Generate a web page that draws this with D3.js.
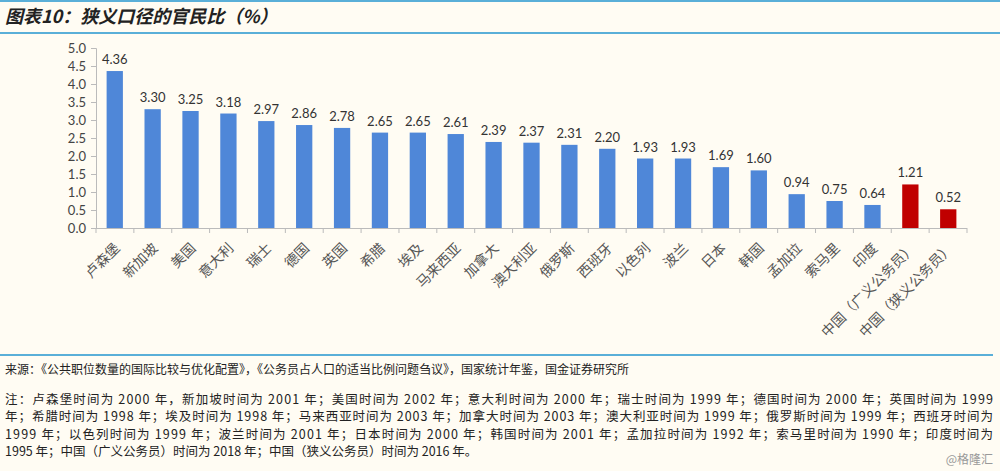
<!DOCTYPE html>
<html>
<head>
<meta charset="utf-8">
<script src="https://cdn.jsdelivr.net/npm/d3@7"></script>
<style>
  body { margin: 0; background: #fffcf3; }
  svg { display: block; }
</style>
</head>
<body>
<script>
const width = 1000;
const height = 471;

// Data.
const countries = ["卢森堡", "新加坡", "美国", "意大利", "瑞士", "德国", "英国", "希腊", "埃及", "马来西亚",
  "加拿大", "澳大利亚", "俄罗斯", "西班牙", "以色列", "波兰", "日本", "韩国", "孟加拉", "索马里", "印度",
  "中国（广义公务员）", "中国（狭义公务员）"];
const ratios = [4.36, 3.30, 3.25, 3.18, 2.97, 2.86, 2.78, 2.65, 2.65, 2.61, 2.39, 2.37, 2.31, 2.20, 1.93, 1.93,
  1.69, 1.60, 0.94, 0.75, 0.64, 1.21, 0.52];
const highlighted = ["中国（广义公务员）", "中国（狭义公务员）"];
const yTicks = [0, 0.5, 1, 1.5, 2, 2.5, 3, 3.5, 4, 4.5, 5];

const titleText = "图表10：狭义口径的官民比（%）";
const sourceText = "来源：《公共职位数量的国际比较与优化配置》，《公务员占人口的适当比例问题刍议》，国家统计年鉴，国金证券研究所";
const noteLines = [
  "注：卢森堡时间为 2000 年，新加坡时间为 2001 年；美国时间为 2002 年；意大利时间为 2000 年；瑞士时间为 1999 年；德国时间为 2000 年；英国时间为 1999",
  "年；希腊时间为 1998 年；埃及时间为 1998 年；马来西亚时间为 2003 年；加拿大时间为 2003 年；澳大利亚时间为 1999 年；俄罗斯时间为 1999 年；西班牙时间为",
  "1999 年；以色列时间为 1999 年；波兰时间为 2001 年；日本时间为 2000 年；韩国时间为 2001 年；孟加拉时间为 1992 年；索马里时间为 1990 年；印度时间为",
  "1995 年；中国（广义公务员）时间为 2018 年；中国（狭义公务员）时间为 2016 年。"
];

const data = countries.map((c, i) => ({ name: c, value: ratios[i] }));

const svg = d3.select("body").append("svg")
  .attr("width", width)
  .attr("height", height);

svg.append("rect").attr("width", width).attr("height", height).attr("fill", "#fffcf3");

// Header rules and title.
svg.append("line").attr("x1", 0).attr("x2", width).attr("y1", 1).attr("y2", 1)
  .attr("stroke", "#5aafd8").attr("stroke-width", 2);
svg.append("line").attr("x1", 0).attr("x2", width).attr("y1", 33).attr("y2", 33)
  .attr("stroke", "#5aafd8").attr("stroke-width", 2);
svg.append("text")
  .attr("x", 5).attr("y", 23)
  .attr("font-family", "Noto Sans CJK SC")
  .attr("font-size", 18)
  .attr("font-weight", "bold")
  .attr("font-style", "italic")
  .attr("fill", "#222")
  .text(titleText);

// Scales.
const x = d3.scaleBand()
  .domain(countries)
  .range([96, 967])
  .paddingInner(0.57)
  .paddingOuter(0.28);

const y = d3.scaleLinear()
  .domain([0, 5])
  .range([228, 48]);

// Y axis.
const yAxis = svg.append("g")
  .attr("transform", "translate(96,0)")
  .call(d3.axisLeft(y).tickValues(yTicks).tickFormat(d3.format(".1f")).tickSize(5).tickPadding(5));
yAxis.select(".domain").attr("stroke", "#bbb");
yAxis.selectAll(".tick line").attr("stroke", "#bbb");
yAxis.selectAll(".tick text")
  .attr("font-family", "Lato")
  .attr("font-size", 13)
  .attr("fill", "#444");

// Bars.
svg.append("g").selectAll("rect")
  .data(data)
  .enter()
  .append("rect")
  .attr("x", d => x(d.name))
  .attr("y", d => y(d.value))
  .attr("width", x.bandwidth())
  .attr("height", d => y(0) - y(d.value))
  .attr("fill", d => highlighted.includes(d.name) ? "#c00000" : "#4f87d8");

// Value labels.
svg.append("g").selectAll("text")
  .data(data)
  .enter()
  .append("text")
  .attr("x", d => x(d.name) + x.bandwidth() / 2)
  .attr("y", d => y(d.value) - 7)
  .attr("text-anchor", "middle")
  .attr("font-family", "Lato")
  .attr("font-size", 13)
  .attr("fill", "#333")
  .text(d => d.value.toFixed(2));

// X axis with ticks at band boundaries.
const boundaries = d3.range(countries.length + 1).map(i => 96 + (967 - 96) * i / countries.length);
svg.append("line")
  .attr("x1", 96).attr("x2", 967).attr("y1", y(0) + 0.5).attr("y2", y(0) + 0.5)
  .attr("stroke", "#bbb");
svg.append("g").selectAll("line")
  .data(boundaries)
  .enter()
  .append("line")
  .attr("x1", d => d).attr("x2", d => d)
  .attr("y1", y(0)).attr("y2", y(0) + 5)
  .attr("stroke", "#bbb");

svg.append("g").selectAll("text")
  .data(countries)
  .enter()
  .append("text")
  .attr("transform", d => `translate(${x(d) + x.bandwidth() / 2 + 6},${y(0) + 21}) rotate(-45)`)
  .attr("text-anchor", "end")
  .attr("font-family", "Noto Sans CJK SC")
  .attr("font-size", 14)
  .attr("fill", "#555")
  .text(d => d);

// Footer.
svg.append("line").attr("x1", 0).attr("x2", 993).attr("y1", 355).attr("y2", 355)
  .attr("stroke", "#5aafd8").attr("stroke-width", 2);
svg.append("text")
  .attr("x", 5).attr("y", 374)
  .attr("font-family", "Noto Sans CJK SC")
  .attr("font-size", 12)
  .attr("fill", "#222")
  .text(sourceText);

svg.append("g").selectAll("text")
  .data(noteLines)
  .enter()
  .append("text")
  .attr("x", 5)
  .attr("y", (d, i) => 404 + i * 17.3)
  .attr("font-family", "Noto Sans CJK SC")
  .attr("font-size", 12.5)
  .attr("fill", "#222")
  .attr("textLength", (d, i) => i < 3 ? 988 : null)
  .attr("lengthAdjust", "spacing")
  .text(d => d);

svg.append("text")
  .attr("x", 993).attr("y", 464)
  .attr("text-anchor", "end")
  .attr("font-family", "Noto Sans CJK SC")
  .attr("font-size", 12)
  .attr("fill", "#999")
  .text("@格隆汇");
</script>
</body>
</html>
